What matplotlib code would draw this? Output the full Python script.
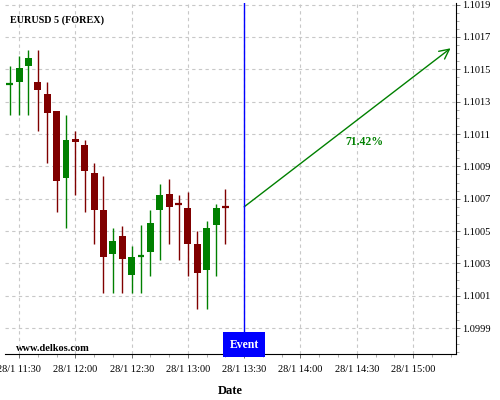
import datetime as dt
import matplotlib
matplotlib.use("Agg")
import matplotlib.pyplot as plt
import matplotlib.dates as mdates
from matplotlib.ticker import MultipleLocator, FuncFormatter
from matplotlib.transforms import blended_transform_factory

plt.rcParams['font.family'] = ['Liberation Serif', 'DejaVu Serif']

# 5 minute candles, 28/1 11:25 .. 13:20
start = dt.datetime(2020, 1, 28, 11, 25)
times = [start + dt.timedelta(minutes=5 * i) for i in range(24)]
opens = [1.10141, 1.10142, 1.10152, 1.10142, 1.10135, 1.10124, 1.10083, 1.10107,
         1.10103, 1.10086, 1.10063, 1.10036, 1.10047, 1.10023, 1.10034, 1.10037,
         1.10063, 1.10073, 1.10067, 1.10064, 1.10042, 1.10026, 1.10054, 1.10065]
closes = [1.10141, 1.10151, 1.10157, 1.10137, 1.10123, 1.10081, 1.10106, 1.10105,
          1.10087, 1.10063, 1.10034, 1.10044, 1.10033, 1.10034, 1.10035, 1.10055,
          1.10072, 1.10065, 1.10066, 1.10042, 1.10024, 1.10052, 1.10064, 1.10065]
highs = [1.10152, 1.10158, 1.10162, 1.10162, 1.10142, 1.10124, 1.10122, 1.10112,
         1.10106, 1.10092, 1.10084, 1.10052, 1.10053, 1.10041, 1.10054, 1.10063,
         1.10079, 1.10082, 1.10072, 1.10074, 1.10050, 1.10056, 1.10067, 1.10076]
lows = [1.10122, 1.10122, 1.10122, 1.10112, 1.10092, 1.10062, 1.10052, 1.10072,
        1.10062, 1.10042, 1.10012, 1.10012, 1.10012, 1.10012, 1.10012, 1.10022,
        1.10032, 1.10042, 1.10032, 1.10022, 1.10002, 1.10002, 1.10022, 1.10042]

event_time = dt.datetime(2020, 1, 28, 13, 30)
target_time = dt.datetime(2020, 1, 28, 15, 20)
target_price = 1.10163
pct_label = "71.42%"
pct_time = dt.datetime(2020, 1, 28, 14, 34)
pct_price = 1.10105

green = '#008000'
red = '#800000'

fig = plt.figure(figsize=(5, 4), dpi=100)
ax = fig.add_axes([0.01, 0.115, 0.902, 0.8775])

x = mdates.date2num(times)
w = 3.7 / 1440.0
for xi, o, c, h, l in zip(x, opens, closes, highs, lows):
    col = green if c >= o else red
    if o == c:
        col = green if xi == x[0] else red
    ax.vlines(xi, l, h, color=col, lw=1.0, zorder=3)
    if abs(c - o) < 0.000015:
        ax.hlines((o + c) / 2, xi - w / 2, xi + w / 2, color=col, lw=1.6, zorder=3)
    else:
        ax.bar(xi, c - o, bottom=o, width=w, color=col, edgecolor='none', zorder=4)

ax.set_xlim(mdates.date2num(dt.datetime(2020, 1, 28, 11, 22, 30)),
            mdates.date2num(dt.datetime(2020, 1, 28, 15, 22, 54)))
ax.set_ylim(1.09974, 1.10191)

# event line + box
ax.axvline(mdates.date2num(event_time), ymin=0.06, ymax=1, color='blue', lw=1, zorder=5)
trans = blended_transform_factory(ax.transData, ax.transAxes)
ax.text(mdates.date2num(event_time), 0.0097, 'Event', transform=trans, color='white',
        fontsize=8.5, fontweight='bold', ha='center', va='bottom', zorder=6,
        bbox=dict(boxstyle='square,pad=0.52', fc='blue', ec='none'))

# projection arrow
ax.annotate('', xy=(mdates.date2num(target_time), target_price),
            xytext=(mdates.date2num(event_time), closes[-1]),
            arrowprops=dict(arrowstyle='->,head_length=0.7,head_width=0.35',
                            color=green, lw=1, shrinkA=0, shrinkB=0))
ax.text(mdates.date2num(pct_time), pct_price, pct_label, color=green, fontsize=8.5,
        fontweight='bold', ha='center', va='center')

ax.text(0.011, 0.952, 'EURUSD 5 (FOREX)', transform=ax.transAxes, fontsize=7.3,
        fontweight='bold', ha='left', va='center')
ax.text(0.024, 0.017, 'www.delkos.com', transform=ax.transAxes, fontsize=7.5,
        fontweight='bold', ha='left', va='center')

# axes styling
ax.spines['left'].set_visible(False)
ax.spines['top'].set_visible(False)
ax.yaxis.tick_right()
ax.yaxis.set_major_locator(MultipleLocator(0.0002, offset=0.0001))
ax.yaxis.set_minor_locator(MultipleLocator(0.00005))
ax.yaxis.set_major_formatter(FuncFormatter(lambda v, p: '%.4f' % v))
ax.xaxis.set_major_locator(mdates.MinuteLocator(byminute=[0, 30]))
ax.xaxis.set_minor_locator(mdates.MinuteLocator(byminute=range(0, 60, 10)))
ax.xaxis.set_major_formatter(FuncFormatter(
    lambda v, p: '%d/%d %s' % (mdates.num2date(v).day, mdates.num2date(v).month,
                               mdates.num2date(v).strftime('%H:%M'))))
ax.tick_params(axis='both', which='major', labelsize=7.5, length=3, width=0.6, color='#555555')
ax.tick_params(axis='both', which='minor', length=2, width=0.5, color='#888888')
ax.tick_params(axis='y', pad=1.5)
ax.tick_params(axis='x', pad=5)
ax.grid(True, which='major', color='#c8c8c8', linestyle=(0, (3, 3)), lw=0.8)
ax.set_axisbelow(True)
ax.set_xlabel('Date', fontsize=9, fontweight='bold', labelpad=8)

fig.savefig('out.png', dpi=100)
